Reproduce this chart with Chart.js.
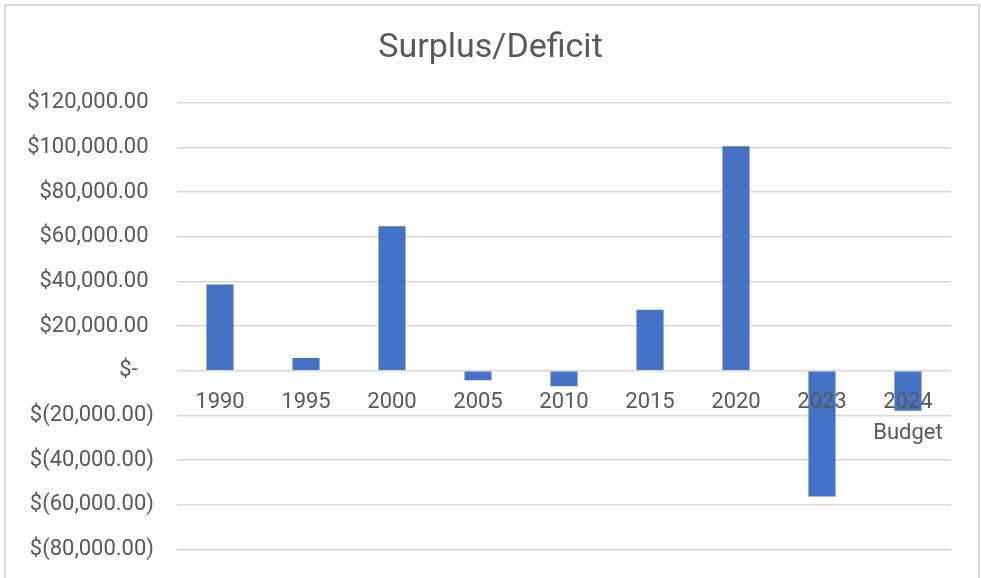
<!DOCTYPE html>
<html>
<head>
<meta charset="utf-8">
<script src="https://cdn.jsdelivr.net/npm/chart.js@4"></script>
<style>
  html, body { margin: 0; padding: 0; background: #fff; }
  #wrap { position: relative; width: 981px; height: 578px; overflow: hidden; }
  #frame {
    position: absolute; left: 4px; top: 4px; width: 972px; height: 600px;
    border: 2px solid #d9d9d9; pointer-events: none;
  }
</style>
</head>
<body>
<div id="wrap">
  <canvas id="chart"></canvas>
  <div id="frame"></div>
</div>
<script>
/* ── Дані ── */
var categories = ['1990', '1995', '2000', '2005', '2010', '2015', '2020', '2023', ['2024', 'Budget']];
var surplus    = [38700, 5700, 64700, -4200, -6900, 27300, 100600, -56300, -17900];
var yTicks     = [120000, 100000, 80000, 60000, 40000, 20000, 0, -20000, -40000, -60000, -80000];

/* Формат як в Excel "Accounting" */
function money( v ) {
    var s = Math.abs( v ).toLocaleString( 'en-US', { minimumFractionDigits: 2, maximumFractionDigits: 2 } );
    if ( v === 0 ) return '$-   ';
    if ( v < 0 )   return '$(' + s + ')';
    return '$' + s + ' ';
}

var labelColor = '#595959';
var gridColor  = '#d9d9d9';

new Chart( document.getElementById( 'chart' ), {
    type: 'bar',
    data: {
        labels: categories,
        datasets: [ {
            label: 'Surplus/Deficit',
            data: surplus,
            backgroundColor: '#4472c4',
            borderWidth: 0,
            barPercentage: 0.315,
            categoryPercentage: 1,
        } ],
    },
    options: {
        responsive: true,
        maintainAspectRatio: false,
        animation: false,
        layout: { padding: { left: 0, right: 0, top: 0, bottom: 28.5 } },
        plugins: {
            legend: { display: false },
            tooltip: { enabled: false },
            title: {
                display: true,
                text: 'Surplus/Deficit',
                color: labelColor,
                font: { family: 'Roboto', size: 34, weight: 'normal', lineHeight: 1.2 },
                padding: { top: 28, bottom: 34 },
            },
        },
        scales: {
            x: {
                position: { y: 0 },
                grid: { display: false, drawTicks: false },
                border: { display: false },
                ticks: {
                    z: 1, // підписи поверх стовпців
                    color: labelColor,
                    font: { family: 'Roboto', size: 22, lineHeight: 1.41 },
                    padding: 16.5,
                    maxRotation: 0,
                    autoSkip: false,
                },
                afterFit: function ( scale ) { scale.height = 0; },
            },
            y: {
                min: -80000,
                max: 120000,
                afterBuildTicks: function ( scale ) {
                    scale.ticks = yTicks.map( function ( v ) { return { value: v }; } );
                },
                afterFit: function ( scale ) { scale.width = 177; },
                // прозорі риски дають відступ підпису, не збільшуючи padding осі
                grid: { color: gridColor, lineWidth: 1.5, drawTicks: true, tickLength: 23, tickColor: 'rgba(0,0,0,0)' },
                border: { display: false },
                ticks: {
                    color: labelColor,
                    font: { family: 'Roboto', size: 22 },
                    padding: 0,
                    callback: function ( v ) { return money( v ); },
                },
            },
            // порожня права вісь лише як відступ, щоб назва була по центру
            yPad: {
                position: 'right',
                display: true,
                grid: { display: false, drawTicks: false },
                border: { display: false },
                ticks: { display: false },
                afterFit: function ( scale ) { scale.width = 30; },
            },
        },
    },
} );
</script>
</body>
</html>
